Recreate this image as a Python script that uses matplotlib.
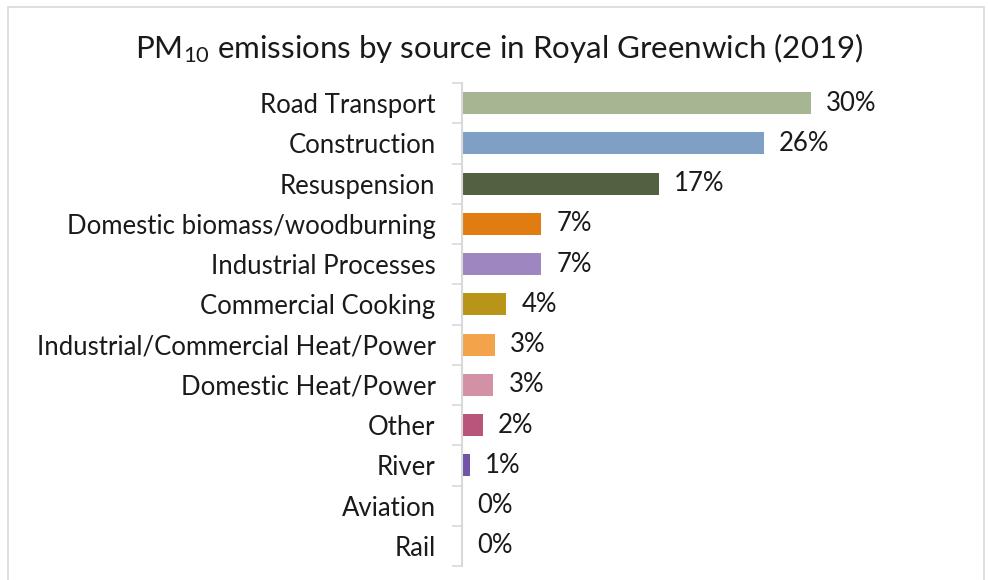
import matplotlib
matplotlib.use("Agg")
import matplotlib.pyplot as plt
from matplotlib.patches import Rectangle
import numpy as np

# PM10 share by source, percent
sources = [
    "Road Transport", "Construction", "Resuspension",
    "Domestic biomass/woodburning", "Industrial Processes",
    "Commercial Cooking", "Industrial/Commercial Heat/Power",
    "Domestic Heat/Power", "Other", "River", "Aviation", "Rail",
]
shares = [29.9, 25.9, 16.9, 6.8, 6.8, 3.8, 2.8, 2.7, 1.8, 0.7, 0.0, 0.0]
bar_colors = [
    "#a6b592", "#7f9fc4", "#546042", "#e07c10", "#9e86c1", "#b89419",
    "#f3a44b", "#d391a6", "#b9557a", "#7254a6", "#888888", "#888888",
]

plt.rcParams["font.family"] = ["Lato", "DejaVu Sans"]
plt.rcParams["mathtext.fontset"] = "custom"
plt.rcParams["mathtext.rm"] = "Lato"
plt.rcParams["mathtext.it"] = "Lato:italic"

W, H = 988, 580
fig = plt.figure(figsize=(W / 100, H / 100), dpi=100)

# light chart border
fig.patches.append(Rectangle((8 / W, -0.05), 976 / W, 1.05 - 7 / H,
                             transform=fig.transFigure, fill=False,
                             edgecolor="#d9d9d9", linewidth=1.2))

ax = fig.add_axes([462 / W, 1 - 566 / H, 408 / W, 483 / H])
y = np.arange(len(sources))
ax.barh(y, shares, height=0.55, color=bar_colors, edgecolor="none")
ax.set_ylim(len(sources) - 0.5, -0.5)
ax.set_xlim(0, 35)

for yi, v in zip(y, shares):
    ax.text(v + 1.3, yi, f"{v:.0f}%", va="center", ha="left",
            fontsize=18.5, color="#1a1a1a")

ax.set_yticks(y)
ax.set_yticklabels(sources, fontsize=18.5, color="#1a1a1a")
ax.tick_params(axis="y", which="major", length=0, pad=19)
ax.set_yticks(np.arange(len(sources) + 1) - 0.5, minor=True)
ax.tick_params(axis="y", which="minor", length=7, width=1.2, color="#d9d9d9")
ax.set_xticks([])
for side in ["top", "right", "bottom"]:
    ax.spines[side].set_visible(False)
ax.spines["left"].set_color("#d9d9d9")
ax.spines["left"].set_linewidth(1.5)

fig.text(499 / W, 1 - 48 / H,
         r"PM$_{\mathrm{10}}$ emissions by source in Royal Greenwich (2019)",
         ha="center", va="center", fontsize=22.5, color="#1a1a1a")

fig.savefig("out.png", dpi=100, facecolor="white")
